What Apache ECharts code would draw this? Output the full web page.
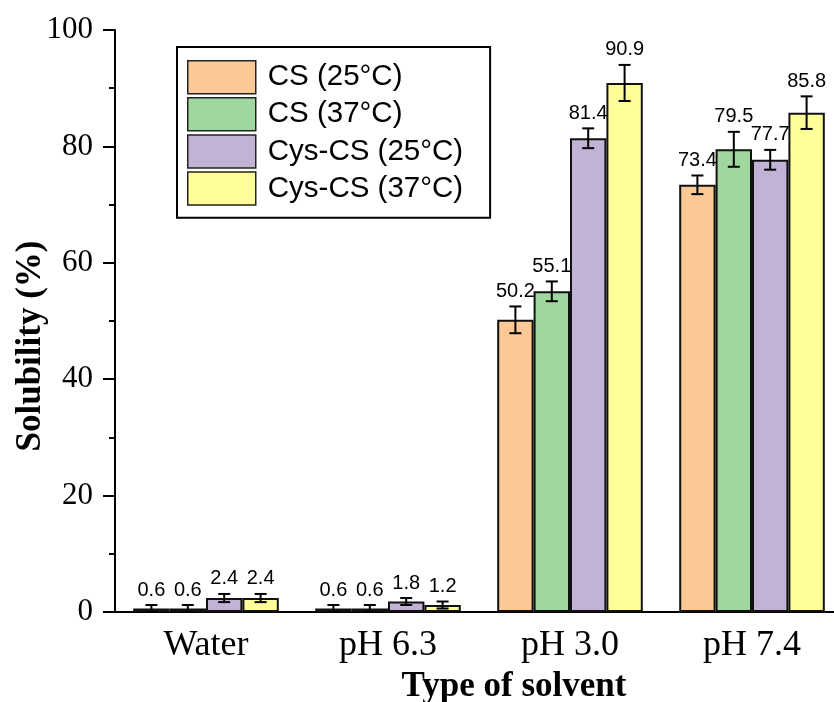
<!DOCTYPE html>
<html>
<head>
<meta charset="utf-8">
<script src="https://cdn.jsdelivr.net/npm/echarts@6/dist/echarts.min.js"></script>
<style>html,body{margin:0;padding:0;background:#fff}#c{width:834px;height:702px}</style>
</head>
<body>
<div id="c"></div>
<script>
const categories = ['Water', 'pH 6.3', 'pH 3.0', 'pH 7.4'];
const seriesNames = ['CS (25°C)', 'CS (37°C)', 'Cys-CS (25°C)', 'Cys-CS (37°C)'];
const cs25 = [0.6, 0.6, 50.2, 73.4];
const cs25Err = [0.6, 0.6, 2.3, 1.6];
const cs37 = [0.6, 0.6, 55.1, 79.5];
const cs37Err = [0.6, 0.6, 1.7, 3.0];
const cys25 = [2.4, 1.8, 81.4, 77.7];
const cys25Err = [0.7, 0.6, 1.7, 1.7];
const cys37 = [2.4, 1.2, 90.9, 85.8];
const cys37Err = [0.7, 0.6, 3.1, 2.8];
const yTicks = [0, 20, 40, 60, 80, 100];

const values = [cs25, cs37, cys25, cys37];
const errors = [cs25Err, cs37Err, cys25Err, cys37Err];
const colors = ['#FBC896', '#9ED89E', '#C2B2D6', '#FFFF99'];
const serif = "'Times New Roman', 'Liberation Serif', serif";
const sans = "Arial, 'Liberation Sans', sans-serif";

const errData = [];
values.forEach((arr, s) => arr.forEach((v, c) => errData.push([c, v, errors[s][c], s])));

const chart = echarts.init(document.getElementById('c'), null, {renderer: 'canvas'});
const barSeries = seriesNames.map((n, i) => ({
  name: n, type: 'bar', data: values[i], barGap: 0, barCategoryGap: '20%',
  itemStyle: {color: colors[i], borderColor: '#111', borderWidth: 2},
  xAxisIndex: 0
}));

chart.setOption({
  animation: false,
  backgroundColor: '#fff',
  grid: {left: 115, width: 728, top: 30, bottom: 90, containLabel: false, outerBoundsMode: 'none'},
  legend: {
    data: seriesNames, orient: 'vertical', left: 177, top: 47,
    itemWidth: 68, itemHeight: 33, itemGap: 2.6, icon: 'rect',
    borderColor: '#000', borderWidth: 2, padding: [13, 27, 12, 10],
    itemStyle: {borderColor: '#222', borderWidth: 1.5},
    textStyle: {fontFamily: sans, fontSize: 29.5, lineHeight: 33, color: '#000', padding: [0, 0, 0, 7]}
  },
  xAxis: [{
    type: 'category', data: categories, position: 'bottom',
    axisLine: {lineStyle: {color: '#000', width: 2}},
    axisTick: {alignWithLabel: true, length: 12, lineStyle: {color: '#000', width: 2}},
    axisLabel: {fontFamily: serif, fontSize: 36, color: '#000', margin: 16},
    name: 'Type of solvent', nameLocation: 'middle', nameGap: 57, nameMoveOverlap: false,
    nameTextStyle: {fontFamily: serif, fontSize: 35, fontWeight: 'bold', color: '#000', padding: [0, 0, 0, 70]}
  }, {
    type: 'category', data: categories, position: 'bottom',
    axisLine: {show: false},
    axisTick: {length: 5, lineStyle: {color: '#000', width: 2}},
    axisLabel: {show: false}
  }],
  yAxis: {
    type: 'value', min: 0, max: 100, interval: 20,
    axisLine: {show: true, lineStyle: {color: '#000', width: 2}},
    axisTick: {show: true, length: 12, lineStyle: {color: '#000', width: 2}},
    minorTick: {show: true, splitNumber: 2, length: 6, lineStyle: {color: '#000', width: 2}},
    splitLine: {show: false},
    axisLabel: {fontFamily: serif, fontSize: 31, color: '#000', margin: 22},
    name: 'Solubility (%)', nameLocation: 'middle', nameGap: 67, nameMoveOverlap: false,
    nameTextStyle: {fontFamily: serif, fontSize: 35, fontWeight: 'bold', color: '#000', padding: [0, 50, 0, 0]}
  },
  series: barSeries.concat([{
    type: 'custom', name: 'err', data: errData, z: 5,
    encode: {x: 0, y: 1},
    renderItem: function (params, api) {
      const cat = api.value(0), v = api.value(1), e = api.value(2), s = api.value(3);
      const band = api.size([1, 0])[0];
      const bw = band * 0.8 / 4;
      const c = api.coord([cat, v]);
      const x = c[0] + (s - 1.5) * bw;
      const top = api.coord([cat, v + e])[1];
      const bot = api.coord([cat, Math.max(0, v - e)])[1];
      const hw = 6;
      const ls = {stroke: '#000', lineWidth: 2};
      return {type: 'group', children: [
        {type: 'line', shape: {x1: x, y1: top, x2: x, y2: bot}, style: ls},
        {type: 'line', shape: {x1: x - hw, y1: top, x2: x + hw, y2: top}, style: ls},
        {type: 'line', shape: {x1: x - hw, y1: bot, x2: x + hw, y2: bot}, style: ls},
        {type: 'text', x: x, y: top - 5, style: {text: v.toFixed(1), fontFamily: sans, fontSize: 20, fill: '#000', align: 'center', verticalAlign: 'bottom'}}
      ]};
    }
  }])
});
</script>
</body>
</html>
